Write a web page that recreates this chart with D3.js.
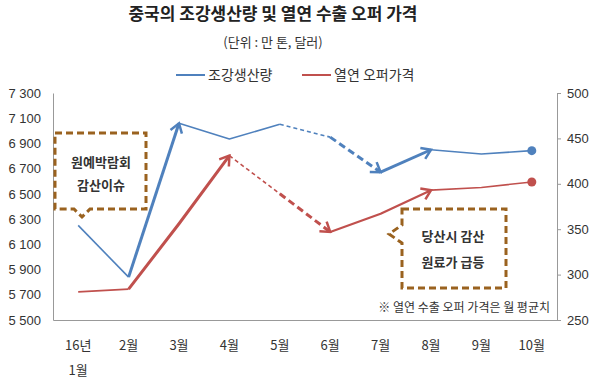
<!DOCTYPE html>
<html><head><meta charset="utf-8">
<script src="https://cdn.jsdelivr.net/npm/d3@7"></script>
<style>
html,body{margin:0;padding:0;background:#fff;}
svg{display:block;font-family:"Noto Sans CJK KR","Noto Sans",sans-serif;}
</style></head>
<body>
<svg id="c" width="600" height="382"></svg>
<script>
const months = ["16년|1월","2월","3월","4월","5월","6월","7월","8월","9월","10월"];
const production = [6250, 5840, 7060, 6935, 7052, 6950, 6672, 6850, 6816, 6843];
const offerPrice = [281, 284, 356, 431, 389, 347, 367, 393, 396, 402];
const leftTicks = [5500, 5700, 5900, 6100, 6300, 6500, 6700, 6900, 7100, 7300];
const rightTicks = [250, 300, 350, 400, 450, 500];
const seriesNames = ["조강생산량", "열연 오퍼가격"];
const title = "중국의 조강생산량 및 열연 수출 오퍼 가격";
const subtitle = "(단위 : 만 톤, 달러)";
const note = "※ 열연 수출 오퍼 가격은 월 평균치";
const callout1 = ["원예박람회", "감산이슈"];
const callout2 = ["당산시 감산", "원료가 급등"];

const svg = d3.select("#c");
const L = 53, R = 557, T = 93, B = 320;
const blue = "#4F81BD", red = "#C0504D", brown = "#9A621F", txt = "#333";

const x = d3.scaleBand().domain(months).range([L, R]);
const cx = d => x(d) + x.bandwidth() / 2;
const yL = d3.scaleLinear().domain([5500, 7300]).range([B, T]);
const yR = d3.scaleLinear().domain([250, 500]).range([B, T]);

// titles
svg.append("text").attr("x", 273).attr("y", 20).attr("text-anchor", "middle")
  .attr("font-size", 17).attr("font-weight", "bold").attr("fill", "#222").text(title);
svg.append("text").attr("x", 273).attr("y", 47).attr("text-anchor", "middle")
  .attr("font-size", 13).attr("fill", txt).text(subtitle);

// legend
const leg = [{n: seriesNames[0], c: blue, x: 176}, {n: seriesNames[1], c: red, x: 302}];
leg.forEach(l => {
  svg.append("line").attr("x1", l.x).attr("x2", l.x + 29).attr("y1", 75).attr("y2", 75)
    .attr("stroke", l.c).attr("stroke-width", 2);
  svg.append("text").attr("x", l.x + 32).attr("y", 80).attr("font-size", 14).attr("fill", txt).text(l.n);
});

// axes
const fmt = v => d3.format(",")(v).replace(",", " ");
const gl = svg.append("g").attr("transform", `translate(${L},0)`)
  .call(d3.axisLeft(yL).tickValues(leftTicks).tickSize(0).tickPadding(12).tickFormat(fmt));
gl.select(".domain").attr("stroke", "#999");
gl.selectAll("text").attr("font-size", 13).attr("fill", txt).attr("font-family", "'Liberation Sans', 'Noto Sans CJK KR', sans-serif");

const gr = svg.append("g").attr("transform", `translate(${R},0)`)
  .call(d3.axisRight(yR).tickValues(rightTicks).tickSize(4).tickPadding(6));
gr.select(".domain").attr("stroke", "#999");
gr.selectAll(".tick line").attr("stroke", "#999");
gr.selectAll("text").attr("font-size", 13).attr("fill", txt).attr("font-family", "'Liberation Sans', 'Noto Sans CJK KR', sans-serif");

const gb = svg.append("g").attr("transform", `translate(0,${B})`)
  .call(d3.axisBottom(x).tickSize(0).tickFormat(""));
gb.select(".domain").attr("stroke", "#999");
months.forEach(m => {
  const parts = m.split("|");
  parts.forEach((p, i) => {
    svg.append("text").attr("x", cx(m)).attr("y", 350 + i * 25).attr("text-anchor", "middle")
      .attr("font-size", 13).attr("fill", txt).text(p);
  });
});

// arrow markers
const defs = svg.append("defs");
function marker(id, color, sw) {
  defs.append("marker").attr("id", id).attr("viewBox", "-12 -8 14 16")
    .attr("refX", 0).attr("refY", 0).attr("markerWidth", 14).attr("markerHeight", 16)
    .attr("markerUnits", "userSpaceOnUse").attr("orient", "auto")
    .append("path").attr("d", "M-9,-6 L0,0 L-9,6").attr("fill", "none")
    .attr("stroke", color).attr("stroke-width", sw).attr("stroke-linejoin", "miter");
}
marker("ab", blue, 2.5);
marker("ar", red, 2.5);

// segments: [from, to, width, dash, arrow]
const blueSegs = [
  [0, 1, 1.6, null, false],
  [1, 2, 3, null, true],
  [2, 4, 1.6, null, false],
  [4, 5, 1.6, "4,3", false],
  [5, 6, 3, "7,4", true],
  [6, 7, 3, null, true],
  [7, 9, 1.6, null, false]
];
const redSegs = [
  [0, 1, 1.6, null, false],
  [1, 3, 3, null, true],
  [3, 4, 1.6, "4,3", false],
  [4, 5, 3, "7,4", true],
  [5, 7, 2.2, null, true],
  [7, 9, 1.6, null, false]
];
function drawSeries(vals, ys, segs, color, mid) {
  const line = d3.line().x(d => cx(months[d])).y(d => ys(vals[d]));
  segs.forEach(s => {
    const idx = d3.range(s[0], s[1] + 1);
    const p = svg.append("path").attr("d", line(idx)).attr("fill", "none")
      .attr("stroke", color).attr("stroke-width", s[2]).attr("stroke-linejoin", "round");
    if (s[3]) p.attr("stroke-dasharray", s[3]);
    if (s[4]) p.attr("marker-end", `url(#${mid})`);
  });
  const last = vals.length - 1;
  svg.append("circle").attr("cx", cx(months[last])).attr("cy", ys(vals[last])).attr("r", 4.5).attr("fill", color);
}
drawSeries(production, yL, blueSegs, blue, "ab");
drawSeries(offerPrice, yR, redSegs, red, "ar");

// callout 1 (pointer at bottom)
const c1 = d3.path();
c1.moveTo(55, 133); c1.lineTo(146, 133); c1.lineTo(146, 209);
c1.lineTo(90, 209); c1.lineTo(82, 217); c1.lineTo(74, 209); c1.lineTo(55, 209); c1.closePath();
svg.append("path").attr("d", c1.toString()).attr("fill", "#fff").attr("stroke", brown)
  .attr("stroke-width", 3).attr("stroke-dasharray", "7,4");
callout1.forEach((t, i) => svg.append("text").attr("x", 101).attr("y", 167 + i * 23)
  .attr("text-anchor", "middle").attr("font-size", 13).attr("font-weight", "bold").attr("fill", txt).text(t));

// callout 2 (pointer at left)
const c2 = d3.path();
c2.moveTo(402, 209); c2.lineTo(506, 209); c2.lineTo(506, 288); c2.lineTo(402, 288);
c2.lineTo(402, 243); c2.lineTo(389, 234); c2.lineTo(402, 225); c2.closePath();
svg.append("path").attr("d", c2.toString()).attr("fill", "#fff").attr("stroke", brown)
  .attr("stroke-width", 3).attr("stroke-dasharray", "7,4");
callout2.forEach((t, i) => svg.append("text").attr("x", 453).attr("y", 241 + i * 26)
  .attr("text-anchor", "middle").attr("font-size", 13).attr("font-weight", "bold").attr("fill", txt).text(t));

// note
svg.append("text").attr("x", 550).attr("y", 312).attr("text-anchor", "end")
  .attr("font-size", 12).attr("fill", txt).text(note);
</script>
</body></html>
